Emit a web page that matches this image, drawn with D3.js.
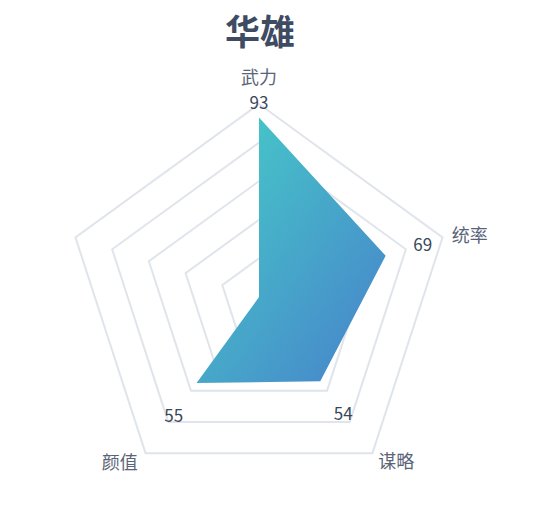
<!DOCTYPE html>
<html lang="zh">

<head>
    <meta charset="utf-8">
    <title>华雄</title>
    <script src="https://d3js.org/d3.v7.min.js"></script>
    <style type="text/css">
        body {
            margin: 0;
            background: #fff;
        }

        text {
            font-family: "Noto Sans CJK SC", "Noto Sans", sans-serif;
        }
    </style>
</head>

<body>
    <script type="text/javascript">

        // chart data
        const title = "华雄";
        const indicators = ["武力", "统率", "谋略", "颜值", ""];
        const values = [93, 69, 54, 55, 0];
        const maxValue = 100;
        const ringLevels = [20, 40, 60, 80, 100];

        //svg information
        const width = 542;
        const height = 506;
        const cx = 259, cy = 297, radius = 193;

        const svg = d3.select("body")
            .append("svg")
            .attr("width", width)
            .attr("height", height);

        //gradient for the area
        const defs = svg.append("defs");
        const grad = defs.append("linearGradient")
            .attr("id", "areaGrad")
            .attr("x1", 0).attr("y1", 0)
            .attr("x2", 1).attr("y2", 1);
        grad.append("stop").attr("offset", "0%").attr("stop-color", "#46cfc8");
        grad.append("stop").attr("offset", "100%").attr("stop-color", "#4781cb");

        const n = indicators.length;
        const angle = d3.scaleLinear().domain([0, n]).range([0, 2 * Math.PI]);
        const r = d3.scaleLinear().domain([0, maxValue]).range([0, radius]);

        // point on axis i at distance d
        function pt(i, d) {
            const a = angle(i);
            return [cx + d * Math.sin(a), cy - d * Math.cos(a)];
        }

        const g = svg.append("g");

        //rings
        g.selectAll("path.ring")
            .data(ringLevels)
            .join("path")
            .attr("class", "ring")
            .attr("d", v => d3.line()(d3.range(n).map(i => pt(i, r(v)))) + "Z")
            .attr("fill", "none")
            .attr("stroke", "#e0e4eb")
            .attr("stroke-width", 2);

        //data area
        g.append("path")
            .datum(values)
            .attr("d", vals => d3.line()(vals.map((v, i) => pt(i, r(v)))) + "Z")
            .attr("fill", "url(#areaGrad)");

        //value labels
        g.selectAll("text.val")
            .data(values)
            .join("text")
            .attr("class", "val")
            .filter(v => v > 0)
            .attr("x", (v, i) => pt(i, r(v) + (i === 0 ? 16 : 39))[0])
            .attr("y", (v, i) => pt(i, r(v) + (i === 0 ? 16 : 39))[1])
            .attr("text-anchor", "middle")
            .attr("dominant-baseline", "central")
            .attr("font-size", 17)
            .attr("fill", "#3b4759")
            .text(v => v);

        //indicator names, aligned away from the chart like echarts does
        const nameShift = [[0, -13], [-5, 1], [-3, -5], [1, -4], [0, 0]];
        g.selectAll("text.name")
            .data(indicators)
            .join("text")
            .attr("class", "name")
            .attr("x", (d, i) => pt(i, radius + 15)[0] + nameShift[i][0])
            .attr("y", (d, i) => pt(i, radius + 15)[1] + nameShift[i][1])
            .attr("text-anchor", (d, i) => {
                const s = Math.sin(angle(i));
                return Math.abs(s) < 0.01 ? "middle" : (s > 0 ? "start" : "end");
            })
            .attr("dominant-baseline", "central")
            .attr("font-size", 18)
            .attr("fill", "#5a6477")
            .text(d => d);

        //title
        svg.append("text")
            .attr("x", 260)
            .attr("y", 29)
            .attr("text-anchor", "middle")
            .attr("dominant-baseline", "central")
            .attr("font-size", 35)
            .attr("font-weight", "bold")
            .attr("fill", "#3e4b63")
            .text(title);

    </script>
</body>

</html>
